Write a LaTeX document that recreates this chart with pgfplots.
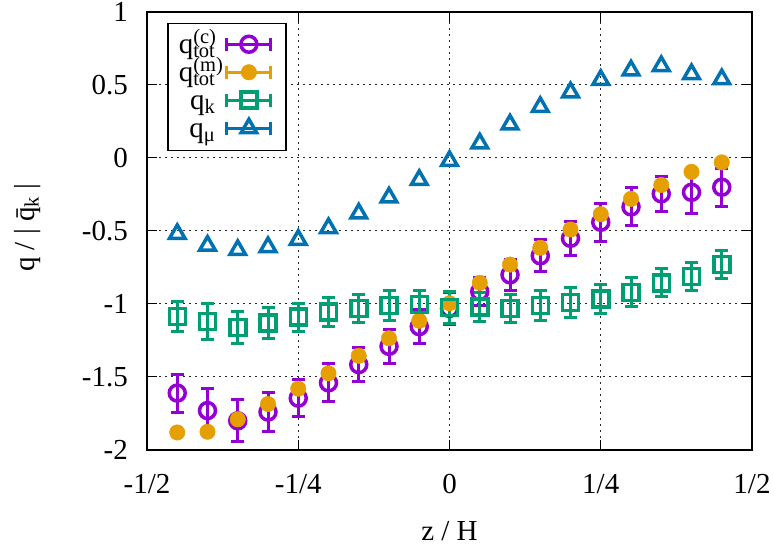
\documentclass[border=0pt]{standalone}
\usepackage{fontspec}
\setmainfont{Liberation Serif}
\usepackage{pgfplots}
\pgfplotsset{compat=1.18}
\definecolor{cP}{HTML}{9400D3}
\definecolor{cO}{HTML}{E69F00}
\definecolor{cG}{HTML}{009E73}
\definecolor{cB}{HTML}{0072B2}
\newcommand\sub[1]{\raisebox{-4bp}{\fontsize{20.5bp}{21bp}\selectfont #1}}
\newcommand\sups[1]{\raisebox{10bp}{\fontsize{20.5bp}{21bp}\selectfont #1}}
\begin{document}
\begin{tikzpicture}[font=\fontsize{29bp}{34bp}\selectfont]
\useasboundingbox (0,0) rectangle (774bp,547bp);
\begin{axis}[
 at={(147bp,97bp)}, anchor=south west,
 scale only axis, width=605bp, height=438bp,
 xmin=-0.5, xmax=0.5, ymin=-2, ymax=1,
 xtick={-0.5,-0.25,0,0.25,0.5}, xticklabels={-1/2,-1/4,0,1/4,1/2},
 ytick={-2,-1.5,-1,-0.5,0,0.5,1}, yticklabels={-2,-1.5,-1,-0.5,0,0.5,1},
 tick align=inside, major tick length=10bp,
 tick style={line width=1bp, black},
 axis line style={line width=2.5bp},
 grid=major, major grid style={line width=1bp, black!85, dash pattern=on 1.5bp off 4.5bp},
 xticklabel style={inner sep=0pt, anchor=north, yshift=-24bp},
 yticklabel style={inner sep=0pt, anchor=east, xshift=-19bp},
 xlabel={z / H}, ylabel={q / | q̄\sub{k} |},
 xlabel style={at={(axis description cs:0.5,-0.2055)}, anchor=base},
 ylabel style={at={(axis description cs:-0.197,0.507)}, anchor=center},
 legend style={at={(axis description cs:0.0331,0.9749)}, anchor=north west, draw=black, line width=1.5bp, fill=white, inner xsep=11bp, inner ysep=7.5bp, row sep=0pt, column sep=12bp, cells={anchor=east}, nodes={inner sep=0pt, text height=22bp, text depth=4bp}},
 legend plot pos=right, legend cell align=right,
 legend image code/.code={
   \path[use as bounding box, draw=none, fill=none] (0bp,-15bp) rectangle (48bp,10bp);
   \draw[#1, mark=none, solid, line width=3bp] (0bp,0bp) -- (44bp,0bp) (0bp,-6.5bp) -- (0bp,6.5bp) (44bp,-6.5bp) -- (44bp,6.5bp);
   \draw[#1] plot coordinates {(22bp,0bp)};
 },
]
\addlegendimage{color=cP, mark=o, mark size=8bp, mark options={line width=3.5bp}}
\addlegendentry{q\rlap{\sups{(c)}}\sub{tot}}
\addlegendimage{color=cO, mark=*, mark size=7.7bp, mark options={line width=0.5bp, fill=cO, draw=cO}}
\addlegendentry{q\rlap{\sups{(m)}}\sub{tot}}
\addlegendimage{color=cG, mark=square, mark size=8bp, mark options={line width=3.5bp}}
\addlegendentry{q\sub{k}}
\addlegendimage{color=cB, mark=triangle, mark size=9bp, mark options={line width=3.5bp}}
\addlegendentry{q\sub{μ}}

\addplot[forget plot, color=cP, only marks, mark=o, mark size=8bp, mark options={line width=3.5bp},
 error bars/.cd, y dir=both, y explicit, error bar style={line width=3bp}, error mark options={rotate=90, mark size=6.5bp, line width=3bp}]
 table[x=x, y=y, y error=e] {
x y e
-0.45 -1.61 0.13
-0.40 -1.73 0.15
-0.35 -1.80 0.145
-0.30 -1.74 0.135
-0.25 -1.645 0.125
-0.20 -1.54 0.13
-0.15 -1.415 0.115
-0.10 -1.29 0.115
-0.05 -1.155 0.115
0.00 -1.03 0.11
0.05 -0.915 0.095
0.10 -0.80 0.105
0.15 -0.67 0.11
0.20 -0.55 0.115
0.25 -0.44 0.13
0.30 -0.335 0.13
0.35 -0.245 0.12
0.40 -0.235 0.145
0.45 -0.20 0.13
};
\addplot[forget plot, color=cO, only marks, mark=*, mark size=7.7bp, mark options={line width=0.5bp, fill=cO, draw=cO}]
 table[x=x, y=y] {
x y
-0.45 -1.88
-0.40 -1.875
-0.35 -1.79
-0.30 -1.685
-0.25 -1.58
-0.20 -1.475
-0.15 -1.355
-0.10 -1.235
-0.05 -1.115
0.00 -0.995
0.05 -0.855
0.10 -0.73
0.15 -0.615
0.20 -0.49
0.25 -0.385
0.30 -0.28
0.35 -0.185
0.40 -0.095
0.45 -0.03
};
\addplot[forget plot, color=cG, only marks, mark=square, mark size=8bp, mark options={line width=3.5bp},
 error bars/.cd, y dir=both, y explicit, error bar style={line width=3bp}, error mark options={rotate=90, mark size=6.5bp, line width=3bp}]
 table[x=x, y=y, y error=e] {
x y e
-0.45 -1.085 0.10
-0.40 -1.12 0.12
-0.35 -1.16 0.11
-0.30 -1.13 0.105
-0.25 -1.09 0.095
-0.20 -1.055 0.10
-0.15 -1.03 0.095
-0.10 -1.01 0.10
-0.05 -1.005 0.095
0.00 -1.025 0.11
0.05 -1.02 0.10
0.10 -1.03 0.095
0.15 -1.01 0.10
0.20 -0.99 0.10
0.25 -0.965 0.10
0.30 -0.92 0.10
0.35 -0.855 0.095
0.40 -0.81 0.095
0.45 -0.73 0.095
};
\addplot[forget plot, color=cB, only marks, mark=triangle, mark size=9bp, mark options={line width=3.5bp}]
 table[x=x, y=y] {
x y
-0.45 -0.52
-0.40 -0.60
-0.35 -0.63
-0.30 -0.61
-0.25 -0.56
-0.20 -0.48
-0.15 -0.38
-0.10 -0.27
-0.05 -0.15
0.00 -0.02
0.05 0.10
0.10 0.23
0.15 0.35
0.20 0.45
0.25 0.535
0.30 0.60
0.35 0.63
0.40 0.575
0.45 0.54
};
\end{axis}
\end{tikzpicture}
\end{document}
